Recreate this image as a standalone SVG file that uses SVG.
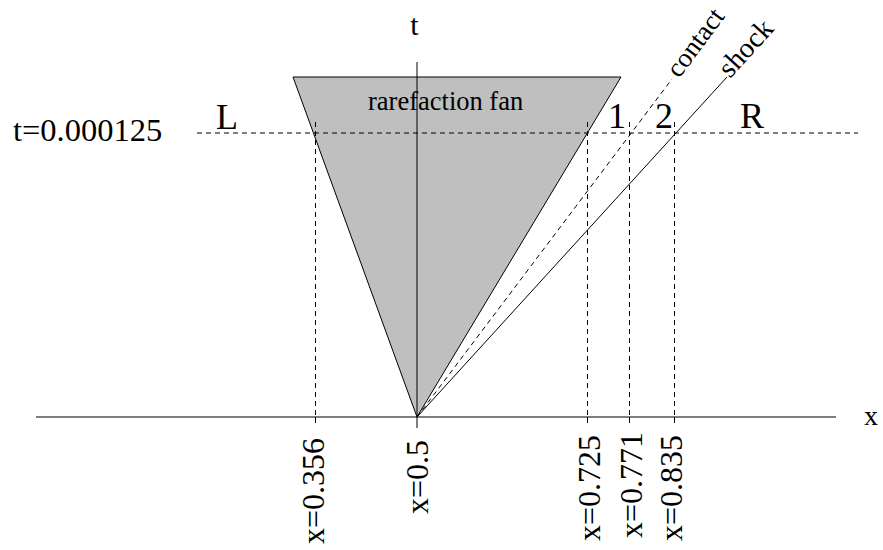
<svg xmlns="http://www.w3.org/2000/svg" width="883" height="550" viewBox="0 0 883 550">
<style>
  .ln { stroke: #000; stroke-width: 1; fill: none; }
  .dash { stroke: #000; stroke-width: 1; fill: none; stroke-dasharray: 5,4; }
  .tx { font-family: "Liberation Serif", "Times New Roman", serif; fill: #000; }
</style>
<rect width="883" height="550" fill="#fff"/>
<g id="fan">
  <polygon points="293,77 621,77 417,417" fill="#bfbfbf" stroke="#000" stroke-width="1"/>
  <text class="tx" x="368" y="110" font-size="26.5">rarefaction fan</text>
</g>
<g id="connectors">
  <line class="ln" x1="36" y1="417" x2="836" y2="417"/>
  <line class="ln" x1="417" y1="62" x2="417" y2="428"/>
  <line class="dash" x1="197" y1="133" x2="858" y2="133"/>
  <line class="dash" x1="315.5" y1="122" x2="315.5" y2="417"/>
  <line class="dash" x1="587.5" y1="122" x2="587.5" y2="417"/>
  <line class="dash" x1="629.5" y1="122" x2="629.5" y2="417"/>
  <line class="dash" x1="674.5" y1="122" x2="674.5" y2="417"/>
  <line class="ln" x1="315.5" y1="417" x2="315.5" y2="423"/>
  <line class="ln" x1="587.5" y1="417" x2="587.5" y2="423"/>
  <line class="ln" x1="629.5" y1="417" x2="629.5" y2="423"/>
  <line class="ln" x1="674.5" y1="417" x2="674.5" y2="423"/>
  <line class="dash" x1="417" y1="417" x2="672" y2="79"/>
  <line class="ln" x1="417" y1="417" x2="727" y2="77"/>
</g>
<g id="labels">
  <text class="tx" x="414.5" y="35" font-size="30" text-anchor="middle">t</text>
  <text class="tx" x="13" y="141" font-size="32.5">t=0.000125</text>
  <text class="tx" x="216" y="129" font-size="36">L</text>
  <text class="tx" x="740" y="128" font-size="36">R</text>
  <text class="tx" x="608" y="128" font-size="36">1</text>
  <text class="tx" x="655" y="128" font-size="36">2</text>
  <text class="tx" x="864" y="425" font-size="28">x</text>
  <text class="tx" font-size="27" transform="translate(679,79) rotate(-53.3)">contact</text>
  <text class="tx" font-size="28.5" transform="translate(730,79) rotate(-47.7)">shock</text>
  <text class="tx" font-size="32" transform="translate(323.5,544) rotate(-90)">x=0.356</text>
  <text class="tx" font-size="32" transform="translate(428,514) rotate(-90)">x=0.5</text>
  <text class="tx" font-size="32" transform="translate(600,541) rotate(-90)">x=0.725</text>
  <text class="tx" font-size="32" transform="translate(642,538) rotate(-90)">x=0.771</text>
  <text class="tx" font-size="32" transform="translate(682,541) rotate(-90)">x=0.835</text>
</g>
</svg>
